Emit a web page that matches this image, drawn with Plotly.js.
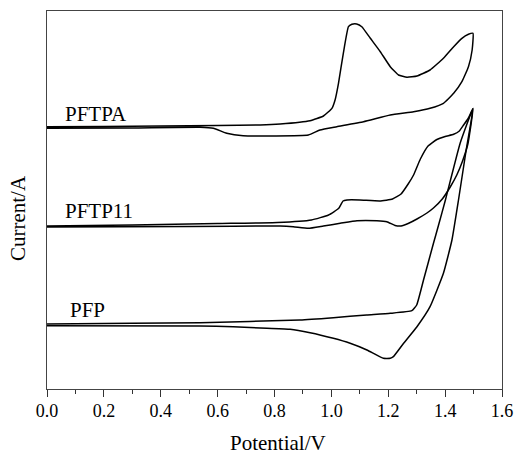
<!DOCTYPE html>
<html>
<head>
<meta charset="utf-8">
<script src="https://cdn.plot.ly/plotly-3.0.1.min.js"></script>
<style>html,body{margin:0;padding:0;background:#fff;}</style>
</head>
<body>
<div id="chart" style="width:515px;height:455px;"></div>
<script>
// Cyclic voltammograms (potential in V, current in arbitrary offset units)
const pftpaV = [0.00,0.20,0.40,0.60,0.75,0.82,0.925,0.972,1.002,1.013,1.025,1.042,1.060,1.072,1.089,1.107,1.137,1.172,1.207,1.236,1.266,1.301,1.347,1.394,1.430,1.459,1.482,1.498,
                1.495,1.482,1.459,1.430,1.394,1.347,1.289,1.207,1.113,1.019,0.960,0.919,0.690,0.632,0.585,0.538,0.30,0.00];
const pftpaI = [262.3,262.5,263,263.5,264,265,268.3,273,280.7,289,305.7,335.7,362.3,364.7,365,362.3,350.7,337.3,322.3,314,311.7,313,319,330.7,342.3,350.7,354.7,355.7,
                339,322.3,307.3,295.7,285.7,280.7,277.3,274,267.3,262.3,259,254,253.3,255.7,260.7,261.7,261,260.7];

const pftp11V = [0.00,0.30,0.60,0.81,0.93,0.99,1.026,1.041,1.055,1.10,1.17,1.215,1.245,1.270,1.289,1.313,1.340,1.371,1.400,1.430,1.450,1.465,1.482,1.498,
                 1.480,1.460,1.441,1.418,1.390,1.359,1.336,1.301,1.270,1.245,1.224,1.195,1.160,1.090,1.031,0.972,0.919,0.866,0.82,0.50,0.00];
const pftp11I = [163,164,165.5,166.5,169,174,180.7,188,189,189,188,190,195,205,214,230,243,249.5,252.5,254.7,258,264,271,280.5,
                 245,227,214,202,190,181,176,170,165.5,163,163.5,167.3,168.3,168.3,165.7,163,160.7,162.3,163,162.5,162];

const pfpV = [0.00,0.30,0.538,0.89,1.007,1.124,1.207,1.283,1.300,1.324,1.359,1.377,1.401,1.453,1.498,
              1.474,1.447,1.424,1.394,1.347,1.301,1.254,1.218,1.207,1.183,1.125,1.066,1.007,0.925,0.855,0.773,0.655,0.538,0.00];
const pfpI = [65,65.7,66.3,69,71.3,74,75.7,78.3,84,109,145.7,164,189,246,280.5,
              239,189,149,115.7,82.3,62.3,45.7,32.3,30.7,30.7,39,45.7,50.7,56.3,59.7,60.7,62.3,63,63.3];

const labels = ["PFTPA","PFTP11","PFP"];
const labelV = [0.056,0.056,0.074];
const labelI = [275.3,178.2,79.3];

const xTicks = [0,0.2,0.4,0.6,0.8,1.0,1.2,1.4,1.6];

const serif = "Liberation Serif";
const lineStyle = {color:"#000", width:1.5, shape:"spline", smoothing:0.4};

const traces = [
  {x:pftpaV, y:pftpaI, mode:"lines", line:lineStyle, name:labels[0], hoverinfo:"skip"},
  {x:pftp11V, y:pftp11I, mode:"lines", line:lineStyle, name:labels[1], hoverinfo:"skip"},
  {x:pfpV, y:pfpI, mode:"lines", line:lineStyle, name:labels[2], hoverinfo:"skip"}
];

const annotations = labels.map((t,i)=>({
  x:labelV[i], y:labelI[i], xref:"x", yref:"y", text:t, showarrow:false,
  xanchor:"left", yanchor:"middle", font:{family:serif, size:21, color:"#000"}
}));
annotations.push({
  x:-0.064, y:0.452, xref:"paper", yref:"paper", text:"Current/A", textangle:-90,
  showarrow:false, xanchor:"center", yanchor:"middle",
  font:{family:serif, size:21, color:"#000"}
});
annotations.push({
  x:0.508, y:-0.143, xref:"paper", yref:"paper", text:"Potential/V",
  showarrow:false, xanchor:"center", yanchor:"middle",
  font:{family:serif, size:21, color:"#000"}
});

const layout = {
  width:515, height:455,
  margin:{l:47, r:13, t:11, b:66},
  paper_bgcolor:"#fff", plot_bgcolor:"#fff",
  showlegend:false,
  xaxis:{
    range:[0,1.6], tickvals:xTicks, ticktext:xTicks.map(v=>v.toFixed(1)),
    ticks:"outside", ticklen:7, tickwidth:1, tickcolor:"#333",
    ticklabelstandoff:-2,
    minor:{dtick:0.1, ticks:"outside", ticklen:4, tickwidth:1, tickcolor:"#333", showgrid:false},
    showline:true, linecolor:"#444", linewidth:1, mirror:true,
    showgrid:false, zeroline:false,
    tickfont:{family:serif, size:18, color:"#000"}
  },
  yaxis:{
    range:[0,378], showticklabels:false, ticks:"",
    showline:true, linecolor:"#444", linewidth:1, mirror:true,
    showgrid:false, zeroline:false
  },
  annotations:annotations
};

Plotly.newPlot("chart", traces, layout, {staticPlot:true, displayModeBar:false});
</script>
</body>
</html>
